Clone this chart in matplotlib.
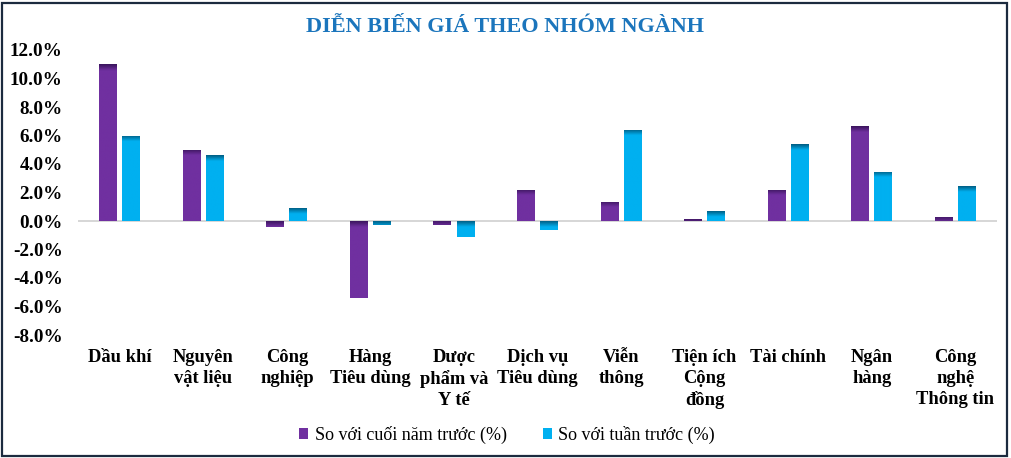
import numpy as np
import matplotlib
matplotlib.use("Agg")
import matplotlib.pyplot as plt
from matplotlib.patches import Rectangle
from matplotlib.colors import LinearSegmentedColormap

categories = ["Dầu khí", "Nguyên\nvật liệu", "Công\nnghiệp", "Hàng\nTiêu dùng",
              "Dược\nphẩm và\nY tế", "Dịch vụ\nTiêu dùng", "Viễn\nthông",
              "Tiện ích\nCộng\nđồng", "Tài chính", "Ngân\nhàng", "Công\nnghệ\nThông tin"]
ytd = [11.0, 5.0, -0.4, -5.4, -0.3, 2.2, 1.35, 0.15, 2.2, 6.65, 0.3]
wow = [6.0, 4.6, 0.9, -0.25, -1.1, -0.6, 6.4, 0.7, 5.4, 3.45, 2.45]
series_names = ["So với cuối năm trước (%)", "So với tuần trước (%)"]
yticks = [-8, -6, -4, -2, 0, 2, 4, 6, 8, 10, 12]

SERIF = ["Liberation Serif", "DejaVu Serif"]
purple = "#7030A0"
blue = "#00B0F0"

fig = plt.figure(figsize=(10.11, 4.58), dpi=100)
ax = fig.add_axes([78/1011, 1-335/458, (997-78)/1011, (335-50)/458])

x = np.arange(len(categories))
w = 0.215
off = 0.138

def shaded(bars, base, dark):
    cmap = LinearSegmentedColormap.from_list("g", [dark, base, base])
    for b in bars:
        bx, by = b.get_x(), b.get_y()
        bw, bh = b.get_width(), b.get_height()
        y0, y1 = min(by, by + bh), max(by, by + bh)
        grad = np.linspace(0, 1, 100).reshape(-1, 1)
        grad = np.minimum(grad * (y1 - y0) / 0.8, 1.0)
        hx = np.linspace(0, 1, 40).reshape(1, -1)
        img = np.minimum(grad, 0.6 + 0.4 * np.minimum(hx / 0.25, 1.0))
        im = ax.imshow(img, cmap=cmap, vmin=0, vmax=1, aspect="auto",
                       extent=[bx, bx + bw, y0, y1], origin="upper", zorder=3,
                       interpolation="bilinear")
        im.set_clip_path(b)

b1 = ax.bar(x - off, ytd, w, color=purple, zorder=2, label=series_names[0])
b2 = ax.bar(x + off, wow, w, color=blue, zorder=2, label=series_names[1])
shaded(b1, purple, "#3d1660")
shaded(b2, blue, "#005f85")

ax.set_xlim(-0.5, len(categories) - 0.5)
ax.set_ylim(-8, 12)
ax.set_yticks(yticks)
ax.set_yticklabels([f"{v:.1f}%" for v in yticks], family=SERIF, fontweight="bold", fontsize=13.8)
ax.set_xticks(x)
ax.set_xticklabels(categories, family=SERIF, fontweight="bold", fontsize=13.3, linespacing=1.3)
ax.tick_params(axis="both", length=0)
ax.tick_params(axis="x", pad=10)
ax.tick_params(axis="y", pad=11)
for s in ax.spines.values():
    s.set_visible(False)
ax.axhline(0, color="#d0d0d0", lw=1.2, zorder=1)

fig.text(505/1011, 1-27/458, "DIỄN BIẾN GIÁ THEO NHÓM NGÀNH", family=SERIF,
         fontweight="bold", fontsize=16, color="#1B75BC", ha="center", va="center")

leg = fig.legend(handles=[b1, b2], labels=series_names, loc="center",
                 bbox_to_anchor=(507/1011, 1-435/458), ncol=2, frameon=False,
                 prop={"family": SERIF, "size": 13}, handlelength=0.5, handleheight=0.5,
                 handletextpad=0.35, columnspacing=2.0)

fig.patches.append(Rectangle((0.002, 0.004), 0.994, 0.99, transform=fig.transFigure,
                             fill=False, edgecolor="#1c2b3f", lw=1.6))

fig.savefig("out.png", dpi=100)
